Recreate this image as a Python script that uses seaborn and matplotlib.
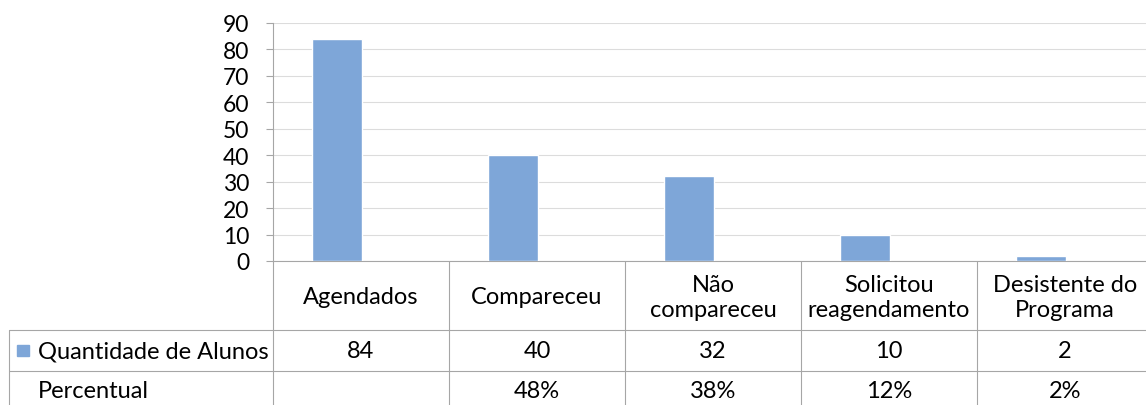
import matplotlib
matplotlib.use("Agg")
import matplotlib.pyplot as plt
import matplotlib.transforms as mtransforms
import seaborn as sns
import pandas as pd

categories = ["Agendados", "Compareceu", "Não\ncompareceu", "Solicitou\nreagendamento", "Desistente do\nPrograma"]
quantidade = [84, 40, 32, 10, 2]
percentual = ["", "48%", "38%", "12%", "2%"]
series_name = "Quantidade de Alunos"
row2_name = "Percentual"
yticks = [0, 10, 20, 30, 40, 50, 60, 70, 80, 90]

sns.set_theme(style="white")
plt.rcParams['font.family'] = ['Lato', 'DejaVu Sans']

W, H = 1146, 406
fig = plt.figure(figsize=(W / 100, H / 100), dpi=100)
ax_left, ax_right, ax_top, ax_bottom = 273, 1146, 24, 262
ax = fig.add_axes([ax_left / W, (H - ax_bottom) / H, (ax_right - ax_left) / W, (ax_bottom - ax_top) / H])

bar_color = "#7EA6D8"
grid_color = "#dcdcdc"
line_color = "#a6a6a6"

df = pd.DataFrame({"cat": categories, "val": quantidade})
sns.barplot(data=df, x="cat", y="val", color=bar_color, width=0.284, saturation=1, ax=ax, zorder=3)

col_w = 176.0
offset = 64.0 / col_w  # bar center offset from column left edge (in category units)
ax.set_xlim(-offset, -offset + (ax_right - ax_left) / col_w)
ax.set_ylim(0, 90)
ax.set_yticks(yticks)
ax.set_yticklabels([str(t) for t in yticks], fontsize=16.5, color="black")
ax.set_xticks([])
ax.set_xlabel("")
ax.set_ylabel("")
ax.yaxis.grid(True, color=grid_color, lw=0.8, zorder=0)
ax.tick_params(axis="y", length=5, width=0.8, color=line_color, pad=12, left=True)
for s in ["top", "right"]:
    ax.spines[s].set_visible(False)
ax.spines["left"].set_color(line_color)
ax.spines["bottom"].set_color(line_color)
ax.spines["left"].set_linewidth(0.8)
ax.spines["bottom"].set_linewidth(0.8)

# Data table (x in category units, y in figure pixels)
trans = mtransforms.blended_transform_factory(ax.transData, fig.transFigure)
def fy(p):
    return (H - p) / H

n = len(categories)
x0 = -offset
row_lines = [331, 372]
for i in range(n + 1):
    xc = x0 + i
    ax.plot([xc, xc], [fy(ax_bottom), fy(H)], transform=trans, color=line_color, lw=0.8, clip_on=False)
for yl in row_lines:
    fig.add_artist(plt.Line2D([9 / W, 1], [fy(yl), fy(yl)], transform=fig.transFigure, color=line_color, lw=0.8))
fig.add_artist(plt.Line2D([9 / W, 9 / W], [fy(row_lines[0]), fy(H)], transform=fig.transFigure, color=line_color, lw=0.8))

txt_size = 17
for i, c in enumerate(categories):
    xc = x0 + i + 0.5
    ax.text(xc, fy(298), c, transform=trans, ha="center", va="center", fontsize=txt_size, color="black", linespacing=1.25)
    ax.text(xc, fy(352), str(quantidade[i]), transform=trans, ha="center", va="center", fontsize=txt_size, color="black")
    ax.text(xc, fy(392), percentual[i], transform=trans, ha="center", va="center", fontsize=txt_size, color="black")

fig.add_artist(plt.Rectangle((17 / W, fy(357)), 12 / W, 11 / H, transform=fig.transFigure, color=bar_color))
fig.text(38 / W, fy(352), series_name, ha="left", va="center", fontsize=txt_size, color="black")
fig.text(38 / W, fy(392), row2_name, ha="left", va="center", fontsize=txt_size, color="black")

fig.savefig("out.png", dpi=100, facecolor="white")
